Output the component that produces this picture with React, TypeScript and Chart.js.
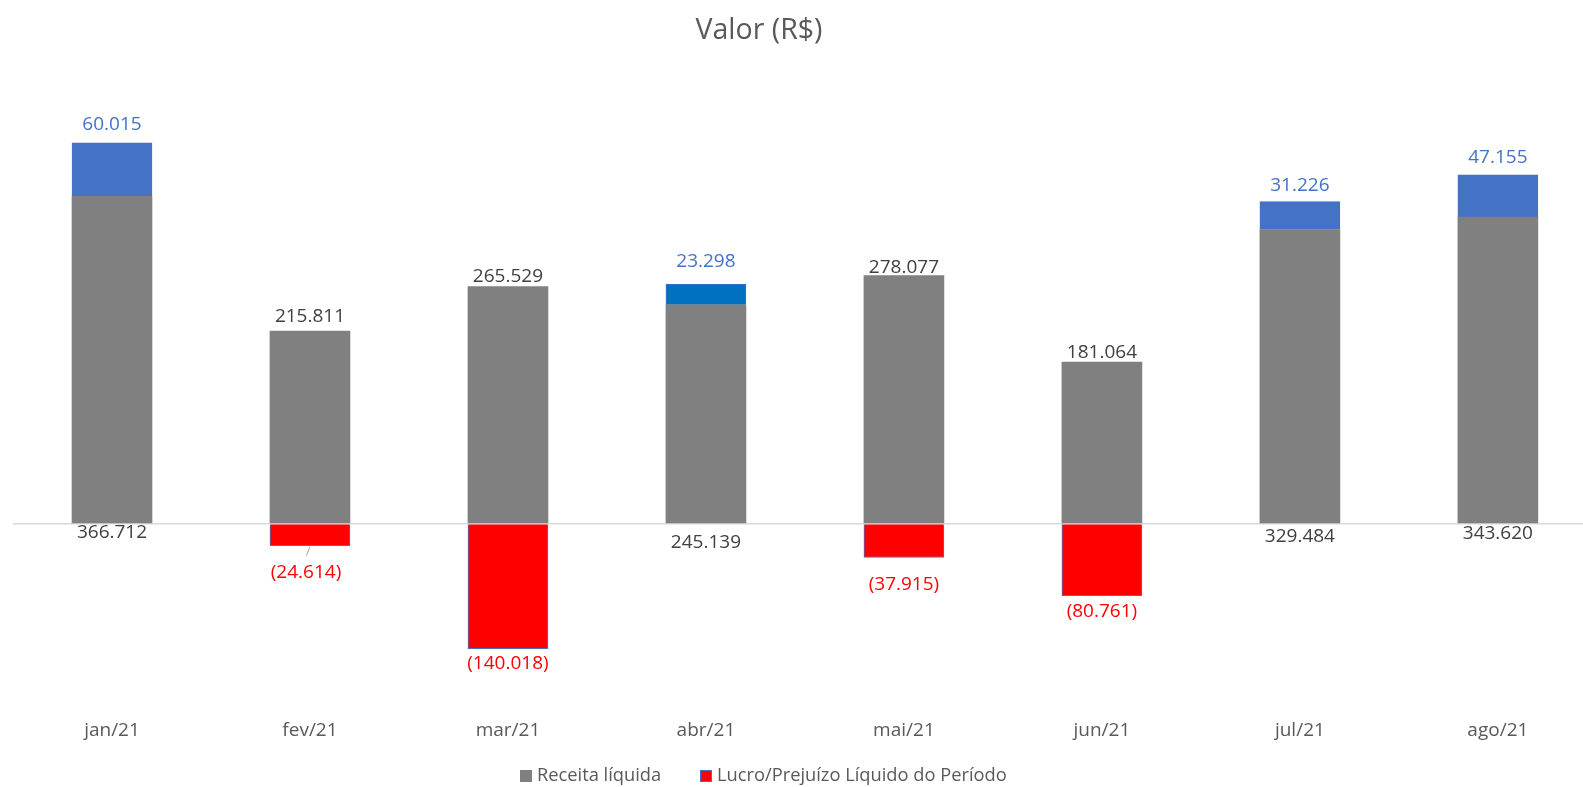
import React, { useEffect, useRef } from "react";
import { Chart, registerables } from "chart.js";

Chart.register(...registerables);

// ---- data ----
const months = ["jan/21", "fev/21", "mar/21", "abr/21", "mai/21", "jun/21", "jul/21", "ago/21"];
const receita = [366712, 215811, 265529, 245139, 278077, 181064, 329484, 343620];
const lucro = [60015, -24614, -140018, 23298, -37915, -80761, 31226, 47155];
const seriesNames = ["Receita líquida", "Lucro/Prejuízo Líquido do Período"];
const titleText = "Valor (R$)";

// ---- style ----
const FONT = '"Open Sans", "Noto Sans", sans-serif';
const GRAY = "#808080";
const BLUE = "#4472C4";
const BLUE_DARK = "#0070C0";
const RED = "#FF0000";
const TEXT = "#595959";
const LABEL = "#404040";
const receitaLabelGap = [9, 14, 10, 19, 8, 9, 13, 10];
const lucroLabelGap = [18, 27, 15, 22, 27, 16, 16, 17];
const leaderLineAt = [1];
const lucroFill = lucro.map((v, i) => (v < 0 ? RED : i === 3 ? BLUE_DARK : BLUE));

function fmt(n: number): string {
  const s = Math.round(Math.abs(n)).toString();
  return s.replace(/\B(?=(\d{3})+(?!\d))/g, ".");
}

const decorPlugin = {
  id: "decor",
  afterDatasetsDraw(chart: any) {
    const ctx = chart.ctx as CanvasRenderingContext2D;
    const m0 = chart.getDatasetMeta(0);
    const m1 = chart.getDatasetMeta(1);
    const zeroY = chart.scales.y.getPixelForValue(0);
    ctx.save();
    ctx.font = `19px ${FONT}`;
    ctx.textAlign = "center";
    ctx.textBaseline = "middle";
    months.forEach((_, i) => {
      const g = m0.data[i];
      const l = m1.data[i];
      ctx.fillStyle = LABEL;
      if (lucro[i] < 0) ctx.fillText(fmt(receita[i]), g.x, g.y - receitaLabelGap[i]);
      else ctx.fillText(fmt(receita[i]), g.x, zeroY + receitaLabelGap[i]);
      if (lucro[i] >= 0) {
        ctx.fillStyle = BLUE;
        ctx.fillText(fmt(lucro[i]), l.x, l.y - lucroLabelGap[i]);
      } else {
        ctx.fillStyle = RED;
        ctx.fillText("(" + fmt(lucro[i]) + ")", l.x - (leaderLineAt.includes(i) ? 4 : 0), l.y + lucroLabelGap[i]);
        if (leaderLineAt.includes(i)) {
          ctx.strokeStyle = "#A6A6A6";
          ctx.lineWidth = 1;
          ctx.beginPath();
          ctx.moveTo(l.x, l.y + 1);
          ctx.lineTo(l.x - 3.5, l.y + 10);
          ctx.stroke();
        }
      }
    });
    ctx.restore();
  },
  afterDraw(chart: any) {
    const ctx = chart.ctx as CanvasRenderingContext2D;
    ctx.save();
    // title
    ctx.fillStyle = TEXT;
    ctx.font = `28.5px ${FONT}`;
    ctx.textAlign = "center";
    ctx.textBaseline = "middle";
    ctx.fillText(titleText, 759, 31);
    // legend
    ctx.font = `18.3px ${FONT}`;
    ctx.textAlign = "left";
    const ly = 776;
    ctx.fillStyle = GRAY;
    ctx.fillRect(520, ly - 6, 12, 12);
    ctx.fillStyle = TEXT;
    ctx.fillText(seriesNames[0], 537, ly);
    ctx.fillStyle = RED;
    ctx.fillRect(700, ly - 6, 12, 12);
    ctx.strokeStyle = BLUE;
    ctx.lineWidth = 1;
    ctx.strokeRect(700.5, ly - 5.5, 11, 11);
    ctx.fillStyle = TEXT;
    ctx.fillText(seriesNames[1], 717, ly);
    ctx.restore();
  },
};

export default function App() {
  const ref = useRef<HTMLCanvasElement | null>(null);
  useEffect(() => {
    if (!ref.current) return;
    const chart = new Chart(ref.current, {
      type: "bar",
      data: {
        datasets: [
          {
            label: seriesNames[0],
            data: receita.map((v, i) => ({ x: i, y: v })),
            backgroundColor: GRAY,
            borderWidth: 0,
            barThickness: 80,
          },
          {
            label: seriesNames[1],
            data: lucro.map((v, i) => ({ x: i, y: v })),
            backgroundColor: lucroFill,
            borderColor: BLUE,
            borderWidth: 1,
            barThickness: 80,
          },
        ],
      } as any,
      options: {
        animation: false,
        responsive: true,
        maintainAspectRatio: false,
        layout: { padding: { top: 122, left: 13, right: 0, bottom: 28 } },
        plugins: { legend: { display: false }, tooltip: { enabled: false }, title: { display: false } },
        scales: {
          x: {
            type: "linear",
            stacked: true,
            min: -0.5,
            max: 7.43,
            offset: false,
            grid: { display: false, drawTicks: false },
            border: { display: false },
            ticks: {
              stepSize: 1,
              includeBounds: false,
              autoSkip: false,
              maxRotation: 0,
              padding: 17,
              color: TEXT,
              font: { family: FONT, size: 19 },
              callback: (v: any) => (Number.isInteger(v) && months[v] ? months[v] : ""),
            },
          },
          y: {
            type: "linear",
            stacked: true,
            min: -200000,
            max: 450000,
            border: { display: false },
            grid: {
              drawTicks: false,
              lineWidth: 1.5,
              color: (c: any) => (c.tick && c.tick.value === 0 ? "#D9D9D9" : "rgba(0,0,0,0)"),
            },
            ticks: { display: false, stepSize: 50000 },
          },
        },
      } as any,
      plugins: [decorPlugin],
    });
    return () => chart.destroy();
  }, []);
  return (
    <div style={{ position: "fixed", left: 0, top: 0, width: 1583, height: 787, background: "#fff" }}>
      <canvas ref={ref} />
    </div>
  );
}
